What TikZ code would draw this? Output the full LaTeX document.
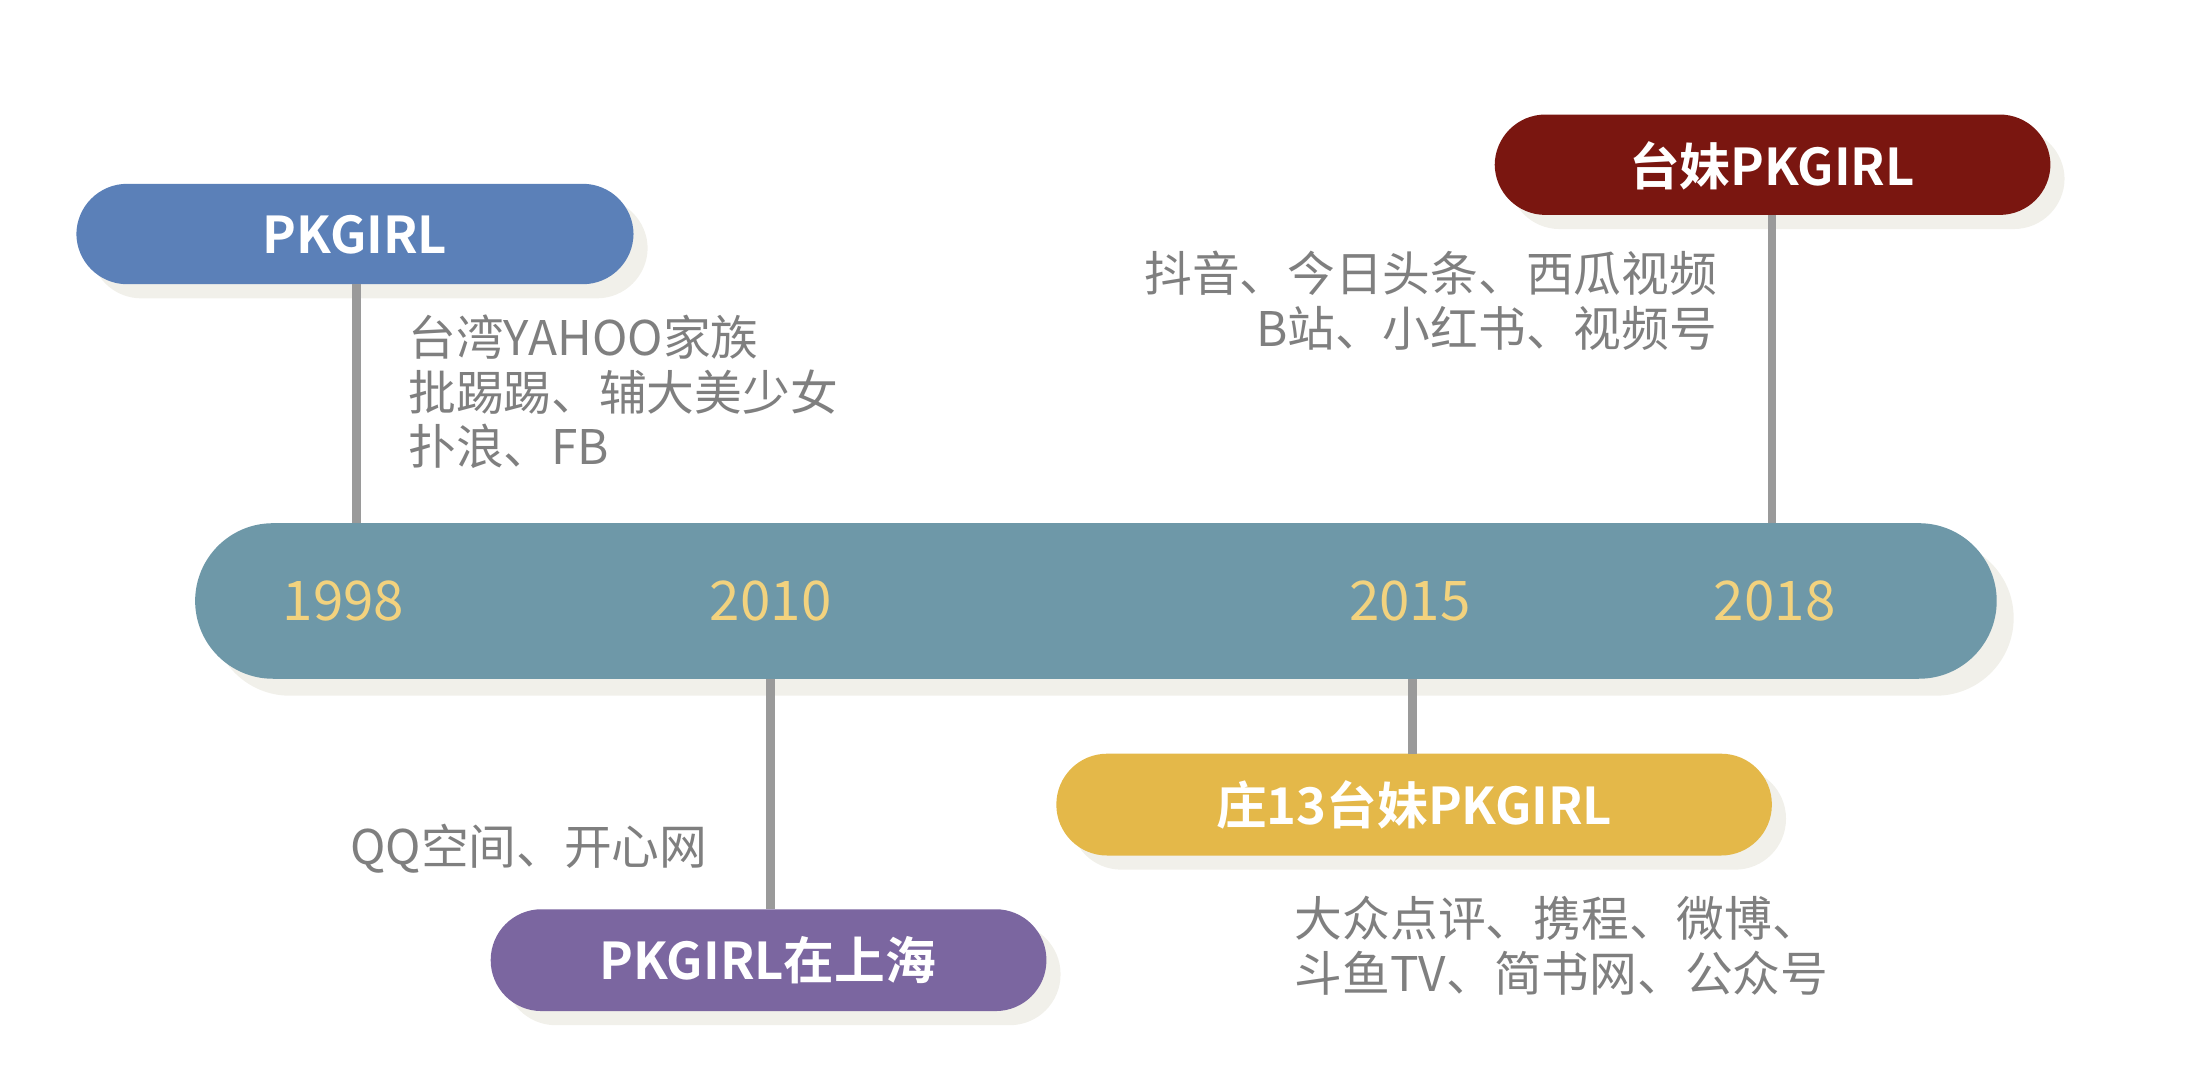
\documentclass[tikz,border=0pt]{standalone}
\usepackage{fontspec}
\setmainfont{Noto Sans CJK SC}
\newfontfamily\cjkb{Noto Sans CJK SC Bold}
\definecolor{barc}{HTML}{6E98A8}
\definecolor{yearc}{HTML}{F2D27E}
\definecolor{shad}{HTML}{F1F0EA}
\definecolor{linec}{HTML}{9A9A9A}
\definecolor{txtc}{HTML}{7F7F7F}
\definecolor{bluec}{HTML}{5B80B8}
\definecolor{redc}{HTML}{7A1610}
\definecolor{purc}{HTML}{7B66A0}
\definecolor{yelc}{HTML}{E4B849}
\tikzset{
  pill/.style={rounded corners=35.9*0.01cm},
  year/.style={text=yearc, font=\fontsize{11}{13}\selectfont},
  desc/.style={text=txtc, font=\fontsize{9.6}{11}\selectfont, align=left, inner sep=0pt},
  title/.style={text=white, font=\cjkb\fontsize{10.2}{12}\selectfont},
  stem/.style={draw=linec, line width=1.7pt},
}
\begin{document}
\begin{tikzpicture}[x=0.01cm,y=-0.01cm]
\useasboundingbox (0,0) rectangle (1560,765);
% main bar
\fill[shad, rounded corners=55*0.01cm] (150,382) rectangle (1424,492);
\fill[barc, rounded corners=55*0.01cm] (138,370) rectangle (1412,480);
\node[year] (y1) at (243,425) {1998};
\node[year] (y2) at (545,425) {2010};
\node[year] (y3) at (997,425) {2015};
\node[year] (y4) at (1255,425) {2018};
% stems
\coordinate (s1) at (252,370); \coordinate (s2) at (545,480);
\coordinate (s3) at (999,480); \coordinate (s4) at (1253,370);
% boxes with shadows
\fill[shad, pill] (64,140) rectangle (458,211);
\fill[bluec, pill] (54,130) rectangle (448,201);
\node[title] (b1) at (251,166) {PKGIRL};
\fill[shad, pill] (1067,91) rectangle (1460,162);
\fill[redc, pill] (1057,81) rectangle (1450,152);
\node[title] (b4) at (1253,117) {台妹PKGIRL};
\fill[shad, pill] (357,653) rectangle (750,725);
\fill[purc, pill] (347,643) rectangle (740,715);
\node[title] (b2) at (543,679) {PKGIRL在上海};
\fill[shad, pill] (757,543) rectangle (1263,615);
\fill[yelc, pill] (747,533) rectangle (1253,605);
\node[title] (b3) at (1000,569) {庄13台妹PKGIRL};
\draw[stem] (s1) -- (252,201);
\draw[stem] (s4) -- (1253,152);
\draw[stem] (s2) -- (545,643);
\draw[stem] (s3) -- (999,533);
% descriptions
\node[desc, anchor=north west] (d1) at (288,222) {\baselineskip=38.5\dimexpr0.01cm\relax 台湾YAHOO家族\\批踢踢、辅大美少女\\扑浪、FB};
\node[desc, anchor=north east, align=right] (d4) at (1215,177) {抖音、今日头条、西瓜视频\\B站、小红书、视频号};
\node[desc, anchor=east] (d2) at (501,600) {QQ空间、开心网};
\node[desc, anchor=north west] (d3) at (915,633) {大众点评、携程、微博、\\斗鱼TV、简书网、公众号};
\end{tikzpicture}
\end{document}
